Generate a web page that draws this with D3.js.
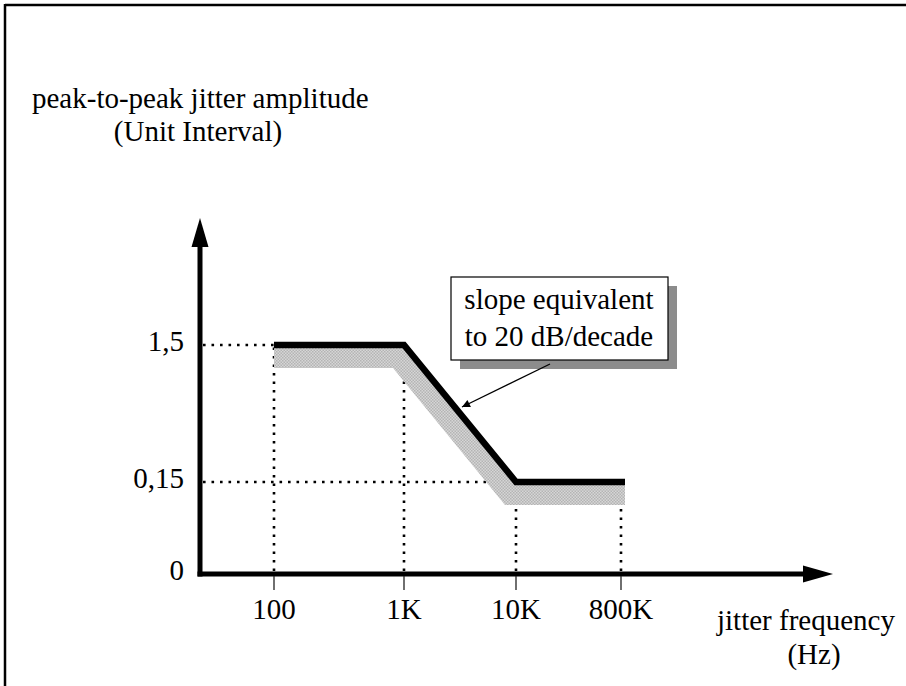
<!DOCTYPE html>
<html>
<head>
<meta charset="utf-8">
<script src="https://cdn.jsdelivr.net/npm/d3@7"></script>
<style>
  body { margin: 0; background: #fff; }
  svg text { font-family: "Liberation Serif", "Times New Roman", serif; fill: #000; }
</style>
</head>
<body>
<svg id="chart" width="906" height="686"></svg>
<script>
// jitter tolerance mask
var freqTicks = [100, 1000, 10000, 800000];
var freqLabels = ['100', '1K', '10K', '800K'];
var ampTicks = [0, 0.15, 1.5];
var ampLabels = ['0', '0,15', '1,5'];
var maskFreq = [100, 1000, 10000, 800000];
var maskAmp = [1.5, 1.5, 0.15, 0.15];
var noteLines = ['slope equivalent', 'to 20 dB/decade'];

var svg = d3.select('#chart');

// break points are not evenly spaced in the drawing, so piecewise scales
var x = d3.scaleLog().domain(freqTicks).range([274, 404, 516, 621]);
var y = d3.scaleLinear().domain(ampTicks).range([574, 482, 345]);

var defs = svg.append('defs');
var pat = defs.append('pattern')
  .attr('id', 'hatch')
  .attr('width', 3).attr('height', 3)
  .attr('patternUnits', 'userSpaceOnUse');
pat.append('rect').attr('width', 3).attr('height', 3).attr('fill', '#d6d6d6');
pat.append('rect').attr('width', 1.5).attr('height', 1.5).attr('fill', '#b4b4b4');
pat.append('rect').attr('x', 1.5).attr('y', 1.5).attr('width', 1.5).attr('height', 1.5).attr('fill', '#b4b4b4');

defs.append('marker')
  .attr('id', 'note-arrow')
  .attr('viewBox', '0 0 10 10')
  .attr('refX', 10).attr('refY', 5)
  .attr('markerWidth', 12).attr('markerHeight', 8)
  .attr('markerUnits', 'userSpaceOnUse')
  .attr('orient', 'auto')
  .append('path').attr('d', 'M0,0L10,5L0,10Z').attr('fill', '#000');

// frame (only top and left edges show)
svg.append('line').attr('x1', 5).attr('y1', 5).attr('x2', 906).attr('y2', 5)
  .attr('stroke', '#000').attr('stroke-width', 2.5);
svg.append('line').attr('x1', 5).attr('y1', 4).attr('x2', 5).attr('y2', 686)
  .attr('stroke', '#000').attr('stroke-width', 2.5);

var pts = maskFreq.map(function(f, i) { return [x(f), y(maskAmp[i])]; });
pts[3] = [pts[3][0] + 4, pts[3][1]]; // mask runs a little past the 800K mark

// dotted guides
var dots = svg.append('g')
  .attr('stroke', '#000').attr('stroke-width', 2.6)
  .attr('stroke-dasharray', '2.6,5.9');
maskFreq.forEach(function(f, i) {
  dots.append('line')
    .attr('x1', x(f)).attr('y1', y(0) - 3)
    .attr('x2', x(f)).attr('y2', y(maskAmp[i]));
});
[1.5, 0.15].forEach(function(a) {
  var end = a === 1.5 ? x(100) : x(10000);
  dots.append('line')
    .attr('x1', 203).attr('y1', y(a))
    .attr('x2', end).attr('y2', y(a));
});

// grey band below the mask
var dx = -11, dy = 23;
var band = pts.slice();
band.push([pts[3][0], pts[3][1] + dy]);
band.push([pts[2][0] + dx, pts[2][1] + dy]);
band.push([pts[1][0] + dx, pts[1][1] + dy]);
band.push([pts[0][0], pts[0][1] + dy]);
svg.append('path')
  .attr('d', 'M' + band.join('L') + 'Z')
  .attr('fill', 'url(#hatch)');

svg.append('path')
  .attr('d', d3.line()(pts))
  .attr('fill', 'none').attr('stroke', '#000').attr('stroke-width', 6.5)
  .attr('stroke-linejoin', 'miter');

// axes
svg.append('line').attr('x1', 200).attr('y1', y(0) + 2.5).attr('x2', 200).attr('y2', 246)
  .attr('stroke', '#000').attr('stroke-width', 5);
svg.append('path').attr('d', 'M200,218L208.5,247L191.5,247Z').attr('fill', '#000');
svg.append('line').attr('x1', 197.5).attr('y1', y(0)).attr('x2', 804).attr('y2', y(0))
  .attr('stroke', '#000').attr('stroke-width', 5);
svg.append('path').attr('d', 'M833,574L803,565.5L803,582.5Z').attr('fill', '#000');

var xt = svg.append('g');
freqTicks.forEach(function(f, i) {
  xt.append('line').attr('x1', x(f)).attr('x2', x(f))
    .attr('y1', y(0) + 2).attr('y2', 590)
    .attr('stroke', '#222').attr('stroke-width', 1.3);
  xt.append('text').attr('x', x(f)).attr('y', 619)
    .attr('text-anchor', 'middle').attr('font-size', 29)
    .text(freqLabels[i]);
});
ampTicks.forEach(function(a, i) {
  svg.append('text').attr('x', 184).attr('y', y(a) + 6)
    .attr('text-anchor', 'end').attr('font-size', 29)
    .text(ampLabels[i]);
});

// axis titles
svg.append('text').attr('x', 32).attr('y', 108).attr('font-size', 29)
  .text('peak-to-peak jitter amplitude');
svg.append('text').attr('x', 198).attr('y', 141).attr('font-size', 29)
  .attr('text-anchor', 'middle').text('(Unit Interval)');
svg.append('text').attr('x', 717).attr('y', 630).attr('font-size', 29)
  .text('jitter frequency');
svg.append('text').attr('x', 814).attr('y', 664).attr('font-size', 29)
  .attr('text-anchor', 'middle').text('(Hz)');

// note box
var note = svg.append('g');
note.append('rect').attr('x', 460).attr('y', 286).attr('width', 217).attr('height', 83)
  .attr('fill', '#8c8c8c');
note.append('rect').attr('x', 451).attr('y', 277).attr('width', 217).attr('height', 83)
  .attr('fill', '#fff').attr('stroke', '#000').attr('stroke-width', 1.2);
noteLines.forEach(function(t, i) {
  note.append('text').attr('x', 559).attr('y', 309 + i * 37)
    .attr('text-anchor', 'middle').attr('font-size', 29).text(t);
});
note.append('line').attr('x1', 550).attr('y1', 364).attr('x2', 462).attr('y2', 407)
  .attr('stroke', '#000').attr('stroke-width', 1.3)
  .attr('marker-end', 'url(#note-arrow)');
</script>
</body>
</html>
